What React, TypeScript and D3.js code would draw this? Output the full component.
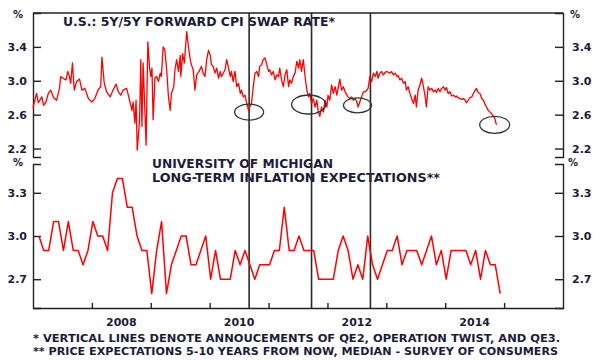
import React, { useEffect, useRef } from "react";
import * as d3 from "d3";

// U.S. 5Y/5Y forward CPI swap rate, % (date as decimal year)
const swapDates = [
  2007.00, 2007.03, 2007.06, 2007.09, 2007.15, 2007.18, 2007.22, 2007.26, 2007.30, 2007.35,
  2007.40, 2007.45, 2007.47, 2007.51, 2007.56, 2007.59, 2007.62, 2007.64, 2007.67, 2007.70,
  2007.74, 2007.79, 2007.83, 2007.88, 2007.94, 2008.00, 2008.05, 2008.11, 2008.15, 2008.17,
  2008.21, 2008.25, 2008.31, 2008.36, 2008.41, 2008.45, 2008.49, 2008.53, 2008.59, 2008.64,
  2008.68, 2008.70, 2008.73, 2008.75, 2008.77, 2008.81, 2008.83, 2008.85, 2008.87, 2008.90,
  2008.92, 2008.95, 2008.98, 2009.00, 2009.02, 2009.04, 2009.07, 2009.10, 2009.13, 2009.16,
  2009.18, 2009.21, 2009.24, 2009.27, 2009.30, 2009.33, 2009.35, 2009.39,
  2009.41, 2009.44, 2009.47, 2009.50, 2009.51, 2009.54, 2009.57, 2009.61, 2009.64, 2009.67,
  2009.69, 2009.72, 2009.75, 2009.78, 2009.82, 2009.86, 2009.89, 2009.92, 2009.95, 2009.98,
  2010.01, 2010.03, 2010.06, 2010.09, 2010.12, 2010.15, 2010.18, 2010.20, 2010.26, 2010.29,
  2010.32, 2010.35, 2010.37, 2010.40, 2010.43, 2010.46, 2010.49, 2010.52, 2010.54, 2010.57,
  2010.60, 2010.63, 2010.66, 2010.68, 2010.71, 2010.74, 2010.77, 2010.80, 2010.83, 2010.85,
  2010.88, 2010.91, 2010.94, 2010.97, 2011.00, 2011.02, 2011.05, 2011.08, 2011.11, 2011.14,
  2011.17, 2011.19, 2011.22, 2011.25, 2011.28, 2011.31, 2011.34, 2011.36, 2011.39, 2011.42,
  2011.45, 2011.48, 2011.51, 2011.53, 2011.56, 2011.59, 2011.62, 2011.65, 2011.68, 2011.70,
  2011.73, 2011.76, 2011.79, 2011.82, 2011.84,
  2011.87, 2011.90, 2011.93, 2011.96, 2011.99, 2012.01, 2012.04, 2012.07, 2012.10, 2012.13,
  2012.16, 2012.18, 2012.21, 2012.24, 2012.27, 2012.30, 2012.33, 2012.35, 2012.38, 2012.41,
  2012.44, 2012.47, 2012.50, 2012.52, 2012.55, 2012.58, 2012.61, 2012.64, 2012.67, 2012.69,
  2012.72, 2012.75, 2012.78, 2012.81, 2012.84, 2012.86, 2012.89, 2012.92, 2012.95, 2012.98,
  2013.01, 2013.06, 2013.09, 2013.12, 2013.15, 2013.18, 2013.20, 2013.23, 2013.26, 2013.29,
  2013.32, 2013.34, 2013.37, 2013.40, 2013.43, 2013.46, 2013.49, 2013.51, 2013.54, 2013.57,
  2013.60, 2013.63, 2013.66, 2013.68, 2013.71, 2013.74, 2013.77, 2013.80, 2013.83, 2013.85,
  2013.88, 2013.91, 2013.94, 2013.97, 2014.00, 2014.02, 2014.05, 2014.08, 2014.11, 2014.14,
  2014.17, 2014.19, 2014.22, 2014.25, 2014.28, 2014.31, 2014.34, 2014.36, 2014.39, 2014.42,
  2014.45, 2014.48, 2014.51, 2014.53, 2014.56, 2014.59, 2014.62, 2014.65, 2014.67, 2014.70,
  2014.73, 2014.76, 2014.79, 2014.82, 2014.84, 2014.87,
];
const swapValues = [
  2.68, 2.77, 2.85, 2.74, 2.81, 2.71, 2.75, 2.85, 2.89, 2.80,
  2.77, 2.91, 3.05, 3.03, 3.01, 3.11, 3.05, 2.97, 3.21, 2.89,
  2.99, 3.02, 2.89, 2.91, 2.79, 2.75, 2.79, 2.90, 2.93, 3.28,
  2.97, 2.87, 2.81, 2.89, 2.96, 2.87, 2.83, 2.89, 2.91, 2.77,
  2.65, 2.75, 2.50, 2.77, 2.18, 2.54, 3.25, 2.46, 3.21, 2.65,
  2.24, 3.46, 3.15, 3.05, 3.15, 2.54, 3.03, 3.05, 2.99, 3.09,
  3.05, 3.40, 3.36, 3.13, 2.81, 2.65, 2.85, 2.93,
  3.13, 3.25, 3.11, 3.30, 3.05, 3.32, 3.21, 3.58, 3.40, 3.25,
  3.19, 3.13, 2.89, 3.07, 3.11, 3.17, 3.09, 3.05, 3.25, 3.36,
  3.30, 3.19, 3.17, 3.09, 3.15, 3.03, 3.11, 3.05, 3.13, 3.25,
  3.15, 3.05, 3.11, 2.99, 3.11, 2.93, 2.97, 2.85, 2.89, 2.81,
  2.83, 2.73, 2.65, 2.69, 2.73, 2.93, 3.09, 3.11, 3.05, 3.17,
  3.19, 3.25, 3.27, 3.19, 3.11, 3.13, 3.07, 3.11, 3.01, 3.07,
  3.05, 3.15, 3.01, 2.93, 3.07, 3.13, 2.93, 3.01, 2.97, 3.05,
  3.09, 3.23, 3.15, 3.25, 3.11, 3.25, 3.05, 2.89, 2.81, 2.85,
  2.73, 2.79, 2.69, 2.77, 2.65,
  2.58, 2.69, 2.63, 2.77, 2.69, 2.83, 2.77, 2.95, 2.85, 2.93,
  2.83, 2.91, 3.02, 2.89, 2.93, 2.87, 2.83, 2.81, 2.79, 2.81,
  2.77, 2.79, 2.75, 2.69, 2.75, 2.81, 2.87, 2.87, 2.89, 2.91,
  3.05, 2.99, 3.09, 3.05, 3.11, 3.03, 3.09, 3.11, 3.07, 3.10,
  3.11, 3.09, 3.11, 3.07, 3.09, 3.05, 3.06, 3.01, 3.03, 2.97,
  2.99, 2.89, 2.93, 2.85, 2.79, 2.73, 2.83, 2.69, 2.89, 2.95,
  3.03, 2.93, 2.81, 2.69, 2.93, 2.89, 2.91, 2.87, 2.89, 2.86,
  2.91, 2.87, 2.91, 2.93, 2.89, 2.92, 2.85, 2.87, 2.82, 2.83,
  2.81, 2.82, 2.80, 2.79, 2.78, 2.79, 2.77, 2.74, 2.77, 2.80,
  2.81, 2.85, 2.89, 2.91, 2.86, 2.85, 2.79, 2.77, 2.73, 2.69,
  2.65, 2.63, 2.61, 2.58, 2.56, 2.48,
];

// University of Michigan 5-10y inflation expectations, monthly from Feb 2007, %
const umichValues = [
  3.0, 2.9, 2.9, 3.1, 3.1, 2.9, 3.1, 2.9, 2.9, 2.8, 2.9,
  3.1, 3.0, 3.0, 2.9, 3.3, 3.4, 3.4, 3.2, 3.2, 3.0, 2.9, 2.9,
  2.6, 2.9, 3.1, 2.6, 2.8, 2.9, 3.0, 3.0, 2.8, 2.8, 2.9, 3.0,
  2.7, 2.9, 2.7, 2.7, 2.7, 2.9, 2.8, 2.9, 2.8, 2.7, 2.8, 2.8,
  2.8, 2.9, 2.9, 3.2, 2.9, 2.9, 3.0, 2.9, 2.9, 2.9, 2.7, 2.7,
  2.7, 2.7, 2.9, 3.0, 2.9, 2.7, 2.8, 2.7, 3.0, 2.8, 2.7, 2.8,
  2.9, 2.9, 3.0, 2.8, 2.9, 2.9, 2.9, 2.8, 2.9, 3.0, 2.8, 2.9,
  2.7, 2.9, 2.9, 2.9, 2.9, 2.8, 2.9, 2.7, 2.9, 2.8, 2.8, 2.6,
];
const umichStartYear = 2007;
const umichStartMonth = 1; // February (0-based)

const swapTicks = [2.2, 2.6, 3.0, 3.4];
const umichTicks = [2.7, 3.0, 3.3];
const yearTicks = [2008, 2009, 2010, 2011, 2012, 2013, 2014, 2015];
const yearLabels = [2008, 2010, 2012, 2014];

// QE2, Operation Twist, QE3 announcements
const policyDates = [2010.67, 2011.73, 2012.73];

// circled lows on the swap rate: [date, value]
const circledLows = [
  [2010.67, 2.63],
  [2011.68, 2.72],
  [2012.51, 2.71],
  [2014.84, 2.48],
];
const circleRadii = [[14.5, 8], [17, 9.5], [14, 7.5], [15, 8.5]];

export default function App() {
  const ref = useRef(null);

  useEffect(() => {
    const svg = d3.select(ref.current);
    svg.selectAll("*").remove();

    const left = 33, right = 563, top = 13, topBottom = 157, botTop = 164, bottom = 308;
    const font = "'DejaVu Sans', Verdana, sans-serif";
    const ink = "#1c1c3a";
    const axisInk = "#222";

    const x = d3.scaleLinear().domain([2007, 2016]).range([left, right]);
    const yTop = d3.scaleLinear().domain([2.1, 3.8]).range([topBottom, top]);
    const yBot = d3.scaleLinear().domain([2.5, 3.5]).range([bottom, botTop]);

    const styleAxis = (g) => {
      g.selectAll("path, line").attr("stroke", axisInk).attr("stroke-width", 1.4);
      g.selectAll("text")
        .attr("fill", ink)
        .attr("font-family", font)
        .attr("font-weight", "bold")
        .attr("font-size", 11);
    };
    const fmt = d3.format(".1f");

    // titles and notes
    const label = (txt, tx, ty, size, len, anchor = "start") => {
      const t = svg.append("text")
        .attr("x", tx).attr("y", ty)
        .attr("fill", ink)
        .attr("font-family", font)
        .attr("font-weight", "bold")
        .attr("font-size", size)
        .attr("text-anchor", anchor)
        .text(txt);
      if (len) t.attr("textLength", len).attr("lengthAdjust", "spacingAndGlyphs");
      return t;
    };
    label("U.S.: 5Y/5Y FORWARD CPI SWAP RATE*", 63, 25.5, 12, 272);
    label("UNIVERSITY OF MICHIGAN", 152, 167.5, 12, 181);
    label("LONG-TERM INFLATION EXPECTATIONS**", 152, 181.5, 12, 288);
    label("*  VERTICAL LINES DENOTE ANNOUCEMENTS OF QE2, OPERATION TWIST, AND QE3.", 33, 342, 10.5, 527);
    label("** PRICE EXPECTATIONS 5-10 YEARS FROM NOW, MEDIAN - SURVEY OF CONSUMERS", 33, 355, 10.5, 525);
    label("%", 18, 18, 10, null, "middle");
    label("%", 575, 18, 10, null, "middle");
    label("%", 18, 166, 10, null, "middle");
    label("%", 573, 166, 10, null, "middle");

    // axes
    svg.append("g").attr("transform", `translate(${left},0)`)
      .call(d3.axisLeft(yTop).tickValues(swapTicks).tickSize(-8).tickPadding(6).tickFormat(fmt))
      .call(styleAxis);
    svg.append("g").attr("transform", `translate(${right},0)`)
      .call(d3.axisRight(yTop).tickValues(swapTicks).tickSize(-8).tickPadding(9).tickFormat(fmt))
      .call(styleAxis);
    svg.append("g").attr("transform", `translate(${left},0)`)
      .call(d3.axisLeft(yBot).tickValues(umichTicks).tickSize(-8).tickPadding(6).tickFormat(fmt))
      .call(styleAxis);
    svg.append("g").attr("transform", `translate(${right},0)`)
      .call(d3.axisRight(yBot).tickValues(umichTicks).tickSize(-8).tickPadding(9).tickFormat(fmt))
      .call(styleAxis);
    svg.append("g").attr("transform", `translate(0,${bottom})`)
      .call(d3.axisBottom(x).tickValues(yearTicks).tickSize(-5).tickSizeOuter(0).tickFormat(() => ""))
      .call(styleAxis);
    svg.append("line")
      .attr("x1", left).attr("x2", right).attr("y1", top).attr("y2", top)
      .attr("stroke", axisInk).attr("stroke-width", 1.4);

    svg.selectAll(".year")
      .data(yearLabels)
      .enter().append("text")
      .attr("x", (d) => x(d + 0.5))
      .attr("y", 326)
      .attr("text-anchor", "middle")
      .attr("fill", ink)
      .attr("font-family", font)
      .attr("font-weight", "bold")
      .attr("font-size", 11)
      .text((d) => d);

    // policy announcement lines
    svg.selectAll(".policy")
      .data(policyDates)
      .enter().append("line")
      .attr("x1", (d) => x(d)).attr("x2", (d) => x(d))
      .attr("y1", top).attr("y2", bottom)
      .attr("stroke", "#2a2a2a")
      .attr("stroke-width", 1.6);

    // series
    const swapLine = d3.line()
      .x((d, i) => x(swapDates[i]))
      .y((d) => yTop(d));
    svg.append("path")
      .datum(swapValues)
      .attr("d", swapLine)
      .attr("fill", "none")
      .attr("stroke", "#ff0000")
      .attr("stroke-width", 1.3)
      .attr("stroke-linejoin", "round");

    const umichDate = (i) => umichStartYear + (umichStartMonth + i + 0.2) / 12;
    const umichLine = d3.line()
      .x((d, i) => x(umichDate(i)))
      .y((d) => yBot(d));
    svg.append("path")
      .datum(umichValues)
      .attr("d", umichLine)
      .attr("fill", "none")
      .attr("stroke", "#ff0000")
      .attr("stroke-width", 1.5)
      .attr("stroke-linejoin", "round");

    // circled lows
    svg.selectAll(".low")
      .data(circledLows)
      .enter().append("ellipse")
      .attr("cx", (d) => x(d[0]))
      .attr("cy", (d) => yTop(d[1]))
      .attr("rx", (d, i) => circleRadii[i][0])
      .attr("ry", (d, i) => circleRadii[i][1])
      .attr("fill", "none")
      .attr("stroke", "#333")
      .attr("stroke-width", 1.3);
  }, []);

  return (
    <svg
      ref={ref}
      width={600}
      height={360}
      style={{ position: "absolute", left: 0, top: 0, background: "#fff" }}
    />
  );
}
